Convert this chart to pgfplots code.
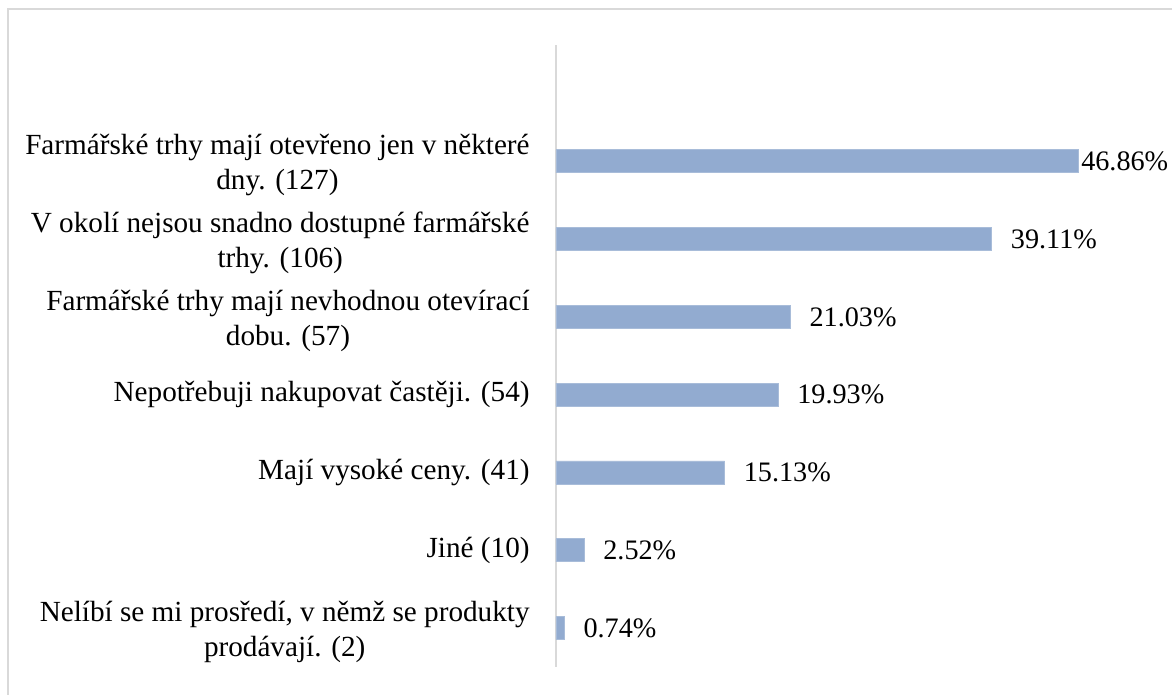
\documentclass[border=0pt]{standalone}
\usepackage{pgfplots}
\pgfplotsset{compat=1.18}
\usepackage{pgfplotstable}
\usepackage{fontspec}
\setmainfont{Liberation Serif}
\definecolor{barblue}{RGB}{146,171,208}
\definecolor{framegray}{RGB}{217,217,217}
\pgfplotstableread{
y x sh
6 46.86 1.5
5 39.11 9.5
4 21.03 9.5
3 19.93 9.5
2 15.13 9.5
1 2.52 9.5
0 0.74 9.5
}\datatable
\begin{document}
\begin{tikzpicture}
\useasboundingbox (0,0) rectangle (586pt,347.5pt);
\draw[framegray, line width=1pt] (4pt,-2pt) -- (4pt,343pt) -- (590pt,343pt);
\begin{axis}[
  at={(278pt,14pt)}, anchor=south west,
  scale only axis,
  width=308pt, height=311.2pt,
  xmin=0, xmax=55.3,
  ymin=-0.5, ymax=7.5,
  axis x line=none,
  axis y line=left,
  axis line style={-, framegray, line width=1pt},
  ytick={1,2,3},
  yticklabels={
    {Jiné (10)},
    {Mají vysoké ceny. (41)},
    {Nepotřebuji nakupovat častěji. (54)}
  },
  extra y ticks={0,4,5,6},
  extra y tick labels={
    {Nelíbí se mi prosředí, v němž se produkty\\prodávají. (2)},
    {Farmářské trhy mají nevhodnou otevírací\\dobu. (57)},
    {V okolí nejsou snadno dostupné farmářské\\trhy. (106)},
    {Farmářské trhy mají otevřeno jen v některé\\dny. (127)}
  },
  extra y tick style={yticklabel style={yshift=-2pt}},
  major tick length=0pt,
  yticklabel style={align=center, inner sep=0pt, xshift=-13pt,
    font=\fontsize{14.6}{17.5}\selectfont},
  xbar, bar width=11.5pt,
  clip=false,
  visualization depends on={\thisrow{sh} \as \sh},
  nodes near coords={\pgfmathprintnumber[fixed,precision=2,fixed zerofill,assume math mode=true]{\pgfplotspointmeta}\%},
  every node near coord/.append style={anchor=west, inner sep=0pt, xshift=\sh pt,
    font=\fontsize{14.1}{17.5}\selectfont, text=black},
]
\addplot[fill=barblue, draw=barblue!80!white, line width=0.3pt] table[x=x, y=y] {\datatable};
\end{axis}
\end{tikzpicture}
\end{document}
